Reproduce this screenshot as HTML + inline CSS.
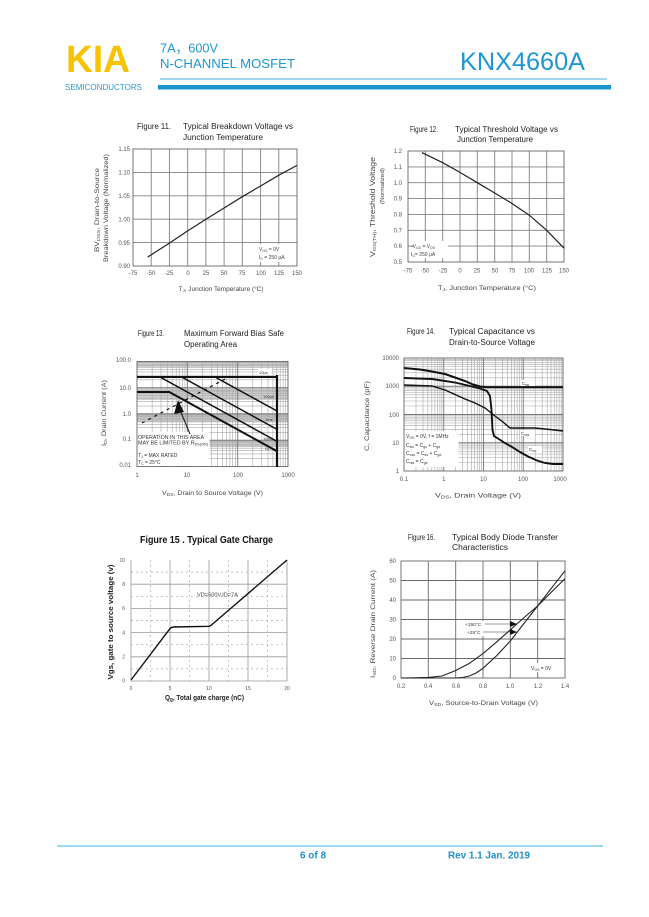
<!DOCTYPE html>
<html><head><meta charset="utf-8"><style>
html,body{margin:0;padding:0;background:#fff;}
svg{display:block;font-family:"Liberation Sans","Noto Sans CJK SC",sans-serif;}
</style></head><body>
<svg width="649" height="917" viewBox="0 0 649 917" xmlns="http://www.w3.org/2000/svg">
<rect width="649" height="917" fill="#fff"/>
<!-- HEADER -->
<text x="66" y="72" font-size="38" font-weight="bold" fill="#F7C300" textLength="64" lengthAdjust="spacingAndGlyphs">KIA</text>
<text x="65" y="90" font-size="8" fill="#2A9BD6" textLength="77" lengthAdjust="spacingAndGlyphs">SEMICONDUCTORS</text>
<text x="160" y="52.5" font-size="13" fill="#1E96D4" textLength="58" lengthAdjust="spacingAndGlyphs">7A，600V</text>
<text x="160" y="68" font-size="13" fill="#1E96D4" textLength="135" lengthAdjust="spacingAndGlyphs">N-CHANNEL MOSFET</text>
<text x="460" y="70" font-size="25" fill="#1E96D4" textLength="125" lengthAdjust="spacingAndGlyphs">KNX4660A</text>
<rect x="160" y="78.5" width="447" height="1" fill="#4AAEE0"/>
<rect x="158" y="85" width="453" height="4.5" fill="#1A95D2"/>

<g font-size="8" fill="#222">
<!-- FIG 11 -->
<text x="137" y="129" textLength="34" lengthAdjust="spacingAndGlyphs">Figure 11.</text>
<text x="183" y="129" textLength="110" lengthAdjust="spacingAndGlyphs">Typical Breakdown Voltage vs</text>
<text x="183" y="140" textLength="80" lengthAdjust="spacingAndGlyphs">Junction Temperature</text>
<!-- FIG 12 -->
<text x="410" y="132" textLength="28" lengthAdjust="spacingAndGlyphs">Figure 12.</text>
<text x="455" y="132" textLength="103" lengthAdjust="spacingAndGlyphs">Typical Threshold Voltage vs</text>
<text x="457" y="142" textLength="76" lengthAdjust="spacingAndGlyphs">Junction Temperature</text>
<!-- FIG 13 -->
<text x="138" y="336" textLength="26" lengthAdjust="spacingAndGlyphs">Figure 13.</text>
<text x="184" y="336" textLength="100" lengthAdjust="spacingAndGlyphs">Maximum Forward Bias Safe</text>
<text x="184" y="347" textLength="53" lengthAdjust="spacingAndGlyphs">Operating Area</text>
<!-- FIG 14 -->
<text x="407" y="334" textLength="28" lengthAdjust="spacingAndGlyphs">Figure 14.</text>
<text x="449" y="334" textLength="86" lengthAdjust="spacingAndGlyphs">Typical Capacitance vs</text>
<text x="449" y="345" textLength="86" lengthAdjust="spacingAndGlyphs">Drain-to-Source Voltage</text>
<!-- FIG 16 -->
<text x="408" y="540" textLength="27" lengthAdjust="spacingAndGlyphs">Figure 16.</text>
<text x="452" y="540" textLength="106" lengthAdjust="spacingAndGlyphs">Typical Body Diode Transfer</text>
<text x="452" y="550" textLength="56" lengthAdjust="spacingAndGlyphs">Characteristics</text>
</g>
<text x="140" y="543" font-size="10" font-weight="bold" fill="#111" textLength="133" lengthAdjust="spacingAndGlyphs">Figure 15 . Typical Gate Charge</text>

<!-- ============ FIG 11 ============ -->
<path d="M151.2,149V266M169.4,149V266M187.7,149V266M205.9,149V266M224.1,149V266M242.3,149V266M260.6,149V266M278.8,149V266M133,172.4H297M133,195.8H297M133,219.2H297M133,242.6H297" stroke="#808080" stroke-width="0.9" fill="none"/>
<rect x="133" y="149" width="164" height="117" fill="none" stroke="#666" stroke-width="0.9"/>
<polyline points="147.6,257.1 169.4,243.1 187.7,230.9 205.9,219.2 224.1,208 242.3,196.7 260.6,186 278.8,175.2 297,165.4" fill="none" stroke="#222" stroke-width="1.2"/>
<g font-size="6" fill="#555" text-anchor="end">
<text x="130" y="151">1.15</text><text x="130" y="174.5">1.10</text><text x="130" y="198">1.05</text><text x="130" y="221.5">1.00</text><text x="130" y="245">0.95</text><text x="130" y="268">0.90</text>
</g>
<g font-size="6" fill="#555" text-anchor="middle">
<text x="133" y="275">-75</text><text x="151" y="275">-50</text><text x="169" y="275">-25</text><text x="188" y="275">0</text><text x="206" y="275">25</text><text x="224" y="275">50</text><text x="242" y="275">75</text><text x="261" y="275">100</text><text x="279" y="275">125</text><text x="297" y="275">150</text>
</g>
<rect x="258" y="244" width="34" height="18" fill="#fff"/>
<text x="259" y="251" font-size="5" fill="#444">V<tspan font-size="3.5" dy="1">GS</tspan><tspan dy="-1"> = 0V</tspan></text>
<text x="259" y="259" font-size="5" fill="#444">I<tspan font-size="3.5" dy="1">D</tspan><tspan dy="-1"> = 250 μA</tspan></text>
<text x="221" y="291" font-size="6.5" fill="#444" text-anchor="middle" textLength="85" lengthAdjust="spacingAndGlyphs">T<tspan font-size="4.5" dy="1">J</tspan><tspan dy="-1">, Junction Temperature (°C)</tspan></text>
<text transform="translate(99,210) rotate(-90)" font-size="6.5" fill="#444" text-anchor="middle" textLength="84" lengthAdjust="spacingAndGlyphs">BV<tspan font-size="4.5" dy="1">DSS</tspan><tspan dy="-1">, Drain-to-Source</tspan></text>
<text transform="translate(108,208) rotate(-90)" font-size="6.5" fill="#444" text-anchor="middle" textLength="108" lengthAdjust="spacingAndGlyphs">Breakdown Voltage (Normalized)</text>

<!-- ============ FIG 12 ============ -->
<path d="M425.3,151V262M442.7,151V262M460,151V262M477.3,151V262M494.7,151V262M512,151V262M529.3,151V262M546.7,151V262M408,166.9H564M408,182.7H564M408,198.6H564M408,214.4H564M408,230.3H564M408,246.1H564" stroke="#808080" stroke-width="0.9" fill="none"/>
<rect x="408" y="151" width="156" height="111" fill="none" stroke="#666" stroke-width="0.9"/>
<rect x="414" y="241" width="34" height="17" fill="#fff"/>
<polyline points="421.9,152.6 442.7,162.7 460,172.4 477.3,182.7 494.7,193 512,203.5 529.3,215.2 546.7,230.3 564,248.2" fill="none" stroke="#222" stroke-width="1.2"/>
<text x="411" y="248" font-size="5" fill="#444">-V<tspan font-size="3.5" dy="1">GS</tspan><tspan dy="-1"> = V</tspan><tspan font-size="3.5" dy="1">DS</tspan></text>
<text x="411" y="256" font-size="5" fill="#444">I<tspan font-size="3.5" dy="1">D</tspan><tspan dy="-1">= 250 μA</tspan></text>
<g font-size="6" fill="#555" text-anchor="end">
<text x="402" y="153">1.2</text><text x="402" y="169">1.1</text><text x="402" y="185">1.0</text><text x="402" y="200.6">0.9</text><text x="402" y="216.4">0.8</text><text x="402" y="232.3">0.7</text><text x="402" y="248">0.6</text><text x="402" y="264">0.5</text>
</g>
<g font-size="6" fill="#555" text-anchor="middle">
<text x="408" y="272.5">-75</text><text x="425" y="272.5">-50</text><text x="443" y="272.5">-25</text><text x="460" y="272.5">0</text><text x="477" y="272.5">25</text><text x="495" y="272.5">50</text><text x="512" y="272.5">75</text><text x="529" y="272.5">100</text><text x="547" y="272.5">125</text><text x="564" y="272.5">150</text>
</g>
<text x="487" y="290" font-size="6.5" fill="#444" text-anchor="middle" textLength="98" lengthAdjust="spacingAndGlyphs">T<tspan font-size="4.5" dy="1">J</tspan><tspan dy="-1">, Junction Temperature (°C)</tspan></text>
<text transform="translate(375,207) rotate(-90)" font-size="7" fill="#444" text-anchor="middle" textLength="100" lengthAdjust="spacingAndGlyphs">V<tspan font-size="4.5" dy="1">GS(TH)</tspan><tspan dy="-1">, Threshold Voltage</tspan></text>
<text transform="translate(384,186) rotate(-90)" font-size="5.5" fill="#444" text-anchor="middle" textLength="36" lengthAdjust="spacingAndGlyphs">(Normalized)</text>

<!-- ============ FIG 13 ============ -->
<rect x="137" y="413" width="151" height="9" fill="#c8c8c8"/>
<rect x="137" y="389" width="151" height="11" fill="#d0d0d0"/>
<rect x="137" y="361.5" width="151" height="6" fill="#d0d0d0"/>
<rect x="210" y="440" width="78" height="7" fill="#d0d0d0"/>
<path d="M152.15,361.5V466.5M161,361.5V466.5M167.3,361.5V466.5M172.2,361.5V466.5M176.2,361.5V466.5M179.5,361.5V466.5M182.4,361.5V466.5M185,361.5V466.5M202.5,361.5V466.5M211.3,361.5V466.5M217.6,361.5V466.5M222.5,361.5V466.5M226.5,361.5V466.5M229.9,361.5V466.5M232.7,361.5V466.5M235.3,361.5V466.5M252.8,361.5V466.5M261.7,361.5V466.5M268,361.5V466.5M272.9,361.5V466.5M276.8,361.5V466.5M280.2,361.5V466.5M283.1,361.5V466.5M285.7,361.5V466.5
M137,362.7H288M137,364.05H288M137,365.57H288M137,367.33H288M137,369.4H288M137,371.94H288M137,375.2H288M137,379.85H288
M137,388.95H288M137,390.3H288M137,391.82H288M137,393.58H288M137,395.65H288M137,398.19H288M137,401.45H288M137,406.1H288
M137,415.2H288M137,416.55H288M137,418.07H288M137,419.83H288M137,421.9H288M137,424.44H288M137,427.7H288M137,432.35H288
M137,441.45H288M137,442.8H288M137,444.32H288M137,446.08H288M137,448.15H288M137,450.69H288M137,453.95H288M137,458.6H288" stroke="#a8a8a8" stroke-width="0.6" fill="none"/>
<path d="M187.3,361.5V466.5M237.7,361.5V466.5M137,387.75H288M137,414H288M137,440.25H288" stroke="#777" stroke-width="0.9" fill="none"/>
<rect x="137" y="361.5" width="151" height="105" fill="none" stroke="#666" stroke-width="0.9"/>
<rect x="137.5" y="432" width="72" height="34" fill="#fff"/>
<g fill="none" stroke="#111">
<path d="M137,377H277" stroke-width="2"/>
<path d="M137,392H169.3L277,451.2" stroke-width="2"/>
<path d="M277,375V467" stroke-width="2.2"/>
<path d="M215,377L277,411" stroke-width="1.5"/>
<path d="M181.7,377L277,429.4" stroke-width="1.5"/>
<path d="M160,377L277,441.4" stroke-width="1.5"/>
<path d="M142,423L227,378" stroke-width="1.2" stroke-dasharray="3,4"/>
<path d="M190,434L180,410" stroke-width="1"/>
</g>
<polygon points="178,400 174,414 184,412" fill="#111"/>
<g font-size="4" fill="#333">
<rect x="258" y="369" width="14" height="6" fill="#fff"/>
<text x="259" y="374">10μs</text>
<text x="263" y="398">100μs</text>
<text x="265" y="421">1ms</text>
<text x="263" y="440">10ms</text>
<text x="265" y="450">DC</text>
</g>
<g font-size="5" fill="#333">
<text x="138" y="439" textLength="66" lengthAdjust="spacingAndGlyphs">OPERATION IN THIS AREA</text>
<text x="138" y="444.5" textLength="70" lengthAdjust="spacingAndGlyphs">MAY BE LIMITED BY R<tspan font-size="3.5" dy="1">DS(ON)</tspan></text>
<text x="138" y="457">T<tspan font-size="3.5" dy="1">J</tspan><tspan dy="-1"> = MAX RATED</tspan></text>
<text x="138" y="464">T<tspan font-size="3.5" dy="1">C</tspan><tspan dy="-1"> = 25°C</tspan></text>
</g>
<g font-size="6" fill="#555" text-anchor="end">
<text x="131" y="362">100.0</text><text x="131" y="390">10.0</text><text x="131" y="416">1.0</text><text x="131" y="441">0.1</text><text x="131" y="467">0.01</text>
</g>
<g font-size="6" fill="#555" text-anchor="middle">
<text x="137" y="477">1</text><text x="187" y="477">10</text><text x="238" y="477">100</text><text x="288" y="477">1000</text>
</g>
<text x="162" y="495" font-size="6.5" fill="#444" textLength="101" lengthAdjust="spacingAndGlyphs">V<tspan font-size="4.5" dy="1">DS</tspan><tspan dy="-1">, Drain to Source Voltage (V)</tspan></text>
<text transform="translate(106,413) rotate(-90)" font-size="6.5" fill="#444" text-anchor="middle" textLength="66" lengthAdjust="spacingAndGlyphs">I<tspan font-size="4.5" dy="1">D</tspan><tspan dy="-1">, Drain Current (A)</tspan></text>

<!-- ============ FIG 14 ============ -->
<path d="M416,358V471M423,358V471M427.9,358V471M431.8,358V471M434.9,358V471M437.6,358V471M439.9,358V471M441.9,358V471M455.7,358V471M462.7,358V471M467.7,358V471M471.5,358V471M474.7,358V471M477.3,358V471M479.6,358V471M481.7,358V471M495.5,358V471M502.5,358V471M507.4,358V471M511.3,358V471M514.4,358V471M517.1,358V471M519.4,358V471M521.4,358V471M535.2,358V471M542.2,358V471M547.2,358V471M551,358V471M554.2,358V471M556.8,358V471M559.1,358V471M561.2,358V471
M404,359.3H563M404,360.7H563M404,362.4H563M404,364.3H563M404,366.5H563M404,369.2H563M404,372.8H563M404,377.8H563
M404,387.5H563M404,389H563M404,390.6H563M404,392.5H563M404,394.8H563M404,397.5H563M404,401H563M404,406H563
M404,415.8H563M404,417.2H563M404,418.9H563M404,420.8H563M404,423H563M404,425.7H563M404,429.3H563M404,434.3H563
M404,444H563M404,445.5H563M404,447.1H563M404,449H563M404,451.3H563M404,454H563M404,457.5H563M404,462.5H563" stroke="#a8a8a8" stroke-width="0.6" fill="none"/>
<path d="M443.75,358V471M483.5,358V471M523.25,358V471M404,386.25H563M404,414.5H563M404,442.75H563" stroke="#777" stroke-width="0.9" fill="none"/>
<rect x="404" y="358" width="159" height="113" fill="none" stroke="#666" stroke-width="0.9"/>
<rect x="404.5" y="431" width="54" height="36" fill="#fff"/>
<g fill="none" stroke="#111">
<polyline points="404,368 420,369.5 432,371.5 445,374 455,377.5 465,381 473,384.5 480,386.5 486,387.3 563,387.3" stroke-width="2"/>
<polyline points="404,378 432,379 455,382.5 470,386 480,388.5 487,391 490,396 491.5,410 492.5,430 494,436 498,438.5 505,443 512,447 520,452 528,456.5 537,460.5 545,463 553,464 563,464" stroke-width="1.9"/>
<polyline points="404,385 432,386 445,390 455,394.5 465,399 475,403 485,408 495,416 503,422 510,428 535,428 550,429.5 563,431" stroke-width="1.4"/>
</g>
<g font-size="4.5" fill="#333">
<rect x="521" y="380" width="14" height="6" fill="#fff"/><text x="522" y="385">C<tspan font-size="3.2" dy="1">iss</tspan></text>
<rect x="520" y="430" width="15" height="6" fill="#fff"/><text x="521" y="435">C<tspan font-size="3.2" dy="1">oss</tspan></text>
<rect x="528" y="446" width="14" height="6" fill="#fff"/><text x="529" y="451">C<tspan font-size="3.2" dy="1">rss</tspan></text>
</g>
<g font-size="5" fill="#333">
<text x="406" y="438">V<tspan font-size="3.5" dy="1">GS</tspan><tspan dy="-1"> = 0V, f = 1MHz</tspan></text>
<text x="406" y="447">C<tspan font-size="3.5" dy="1">iss</tspan><tspan dy="-1"> = C</tspan><tspan font-size="3.5" dy="1">gs</tspan><tspan dy="-1"> + C</tspan><tspan font-size="3.5" dy="1">gd</tspan></text>
<text x="406" y="455">C<tspan font-size="3.5" dy="1">oss</tspan><tspan dy="-1"> = C</tspan><tspan font-size="3.5" dy="1">ds</tspan><tspan dy="-1"> + C</tspan><tspan font-size="3.5" dy="1">gd</tspan></text>
<text x="406" y="463">C<tspan font-size="3.5" dy="1">rss</tspan><tspan dy="-1"> = C</tspan><tspan font-size="3.5" dy="1">gd</tspan></text>
</g>
<g font-size="6" fill="#555" text-anchor="end">
<text x="399" y="360">10000</text><text x="399" y="388">1000</text><text x="399" y="417">100</text><text x="399" y="445">10</text><text x="399" y="473">1</text>
</g>
<g font-size="6" fill="#555" text-anchor="middle">
<text x="404" y="481">0.1</text><text x="443.75" y="481">1</text><text x="483.5" y="481">10</text><text x="523" y="481">100</text><text x="560" y="481">1000</text>
</g>
<text x="478" y="497.5" font-size="6.5" fill="#444" text-anchor="middle" textLength="86" lengthAdjust="spacingAndGlyphs">V<tspan font-size="4.5" dy="1">DS</tspan><tspan dy="-1">, Drain Voltage (V)</tspan></text>
<text transform="translate(369,416) rotate(-90)" font-size="6.5" fill="#444" text-anchor="middle" textLength="70" lengthAdjust="spacingAndGlyphs">C, Capacitance (pF)</text>

<!-- ============ FIG 15 ============ -->
<path d="M170,560V681M209,560V681M248,560V681M131,656.8H287M131,632.6H287M131,608.4H287M131,584.2H287" stroke="#999" stroke-width="0.8" fill="none"/>
<path d="M150.5,560V681M189.5,560V681M228.5,560V681M267.5,560V681M131,668.9H287M131,644.7H287M131,620.5H287M131,596.3H287M131,572.1H287" stroke="#aaa" stroke-width="0.7" stroke-dasharray="2,3" fill="none"/>
<path d="M131,560V681H287V560" stroke="#999" stroke-width="0.8" fill="none"/>
<path d="M131,680L170,628.6Q171.5,627 174,627L209,626.3Q210.5,626 212,624.5L287,560" fill="none" stroke="#111" stroke-width="1.4"/>
<text x="197" y="596.5" font-size="5.5" fill="#444" textLength="41" lengthAdjust="spacingAndGlyphs">VD=500V,ID=7A</text>
<g font-size="5" fill="#555" text-anchor="end">
<text x="125" y="682.5">0</text><text x="125" y="658.5">2</text><text x="125" y="634.5">4</text><text x="125" y="610">6</text><text x="125" y="586">8</text><text x="125" y="562">10</text>
</g>
<g font-size="5" fill="#555" text-anchor="middle">
<text x="131" y="690">0</text><text x="170" y="690">5</text><text x="209" y="690">10</text><text x="248" y="690">15</text><text x="287" y="690">20</text>
</g>
<text x="165" y="700" font-size="7" font-weight="bold" fill="#222" textLength="79" lengthAdjust="spacingAndGlyphs">Q<tspan font-size="5" dy="1">g</tspan><tspan dy="-1">, Total gate charge (nC)</tspan></text>
<text transform="translate(113,622) rotate(-90)" font-size="7" font-weight="bold" fill="#222" text-anchor="middle" textLength="115" lengthAdjust="spacingAndGlyphs">Vgs, gate to source voltage (v)</text>

<!-- ============ FIG 16 ============ -->
<path d="M428.3,561V678M455.7,561V678M483,561V678M510.3,561V678M537.7,561V678M401,658.5H565M401,639H565M401,619.5H565M401,600H565M401,580.5H565" stroke="#6a6a6a" stroke-width="0.9" fill="none"/>
<rect x="401" y="561" width="164" height="117" fill="none" stroke="#666" stroke-width="0.9"/>
<rect x="527" y="663" width="30" height="9" fill="#fff"/>
<polyline points="401,678 414.7,677.8 428.3,677.4 442,676 455.7,670.5 469.3,663.4 483,653.6 496.7,641.9 510.3,629.8 524,617.6 537.7,605.9 551.3,592.2 565,578.6" fill="none" stroke="#222" stroke-width="1.1"/>
<polyline points="401,678 455.7,678 462.5,677.5 469.3,676 476.2,673 483,668.3 496.7,655.6 510.3,641 524,623.4 537.7,605.9 551.3,588.3 565,570.8" fill="none" stroke="#222" stroke-width="1.1"/>
<rect x="464" y="621" width="26" height="15" fill="#fff"/>
<text x="465" y="626" font-size="4.8" fill="#333">+150°C</text>
<text x="467" y="634" font-size="4.8" fill="#333">+25°C</text>
<path d="M485,624H511M483,632H511" stroke="#333" stroke-width="0.6"/>
<polygon points="510,621 517,624 510,627" fill="#111"/>
<polygon points="510,629 517,632 510,635" fill="#111"/>
<text x="531" y="670" font-size="5" fill="#333">V<tspan font-size="3.5" dy="1">GS</tspan><tspan dy="-1"> = 0V</tspan></text>
<g font-size="6" fill="#555" text-anchor="end">
<text x="396" y="563">60</text><text x="396" y="582.5">50</text><text x="396" y="602">40</text><text x="396" y="621.5">30</text><text x="396" y="641">20</text><text x="396" y="660.5">10</text><text x="396" y="680">0</text>
</g>
<g font-size="6" fill="#555" text-anchor="middle">
<text x="401" y="688">0.2</text><text x="428" y="688">0.4</text><text x="456" y="688">0.6</text><text x="483" y="688">0.8</text><text x="510" y="688">1.0</text><text x="538" y="688">1.2</text><text x="565" y="688">1.4</text>
</g>
<text x="429" y="705" font-size="6.5" fill="#444" textLength="109" lengthAdjust="spacingAndGlyphs">V<tspan font-size="4.5" dy="1">SD</tspan><tspan dy="-1">, Source-to-Drain Voltage (V)</tspan></text>
<text transform="translate(375,624) rotate(-90)" font-size="6.5" fill="#444" text-anchor="middle" textLength="108" lengthAdjust="spacingAndGlyphs">I<tspan font-size="4.5" dy="1">SD</tspan><tspan dy="-1">, Reverse Drain Current (A)</tspan></text>

<!-- FOOTER -->
<rect x="57" y="845.5" width="546" height="1" fill="#3AAFE2"/>
<text x="300" y="858.5" font-size="10" font-weight="bold" fill="#1E8FCC" textLength="26" lengthAdjust="spacingAndGlyphs">6 of 8</text>
<text x="448" y="858.5" font-size="10" font-weight="bold" fill="#1E8FCC" textLength="82" lengthAdjust="spacingAndGlyphs">Rev 1.1 Jan. 2019</text>
</svg>
</body></html>
